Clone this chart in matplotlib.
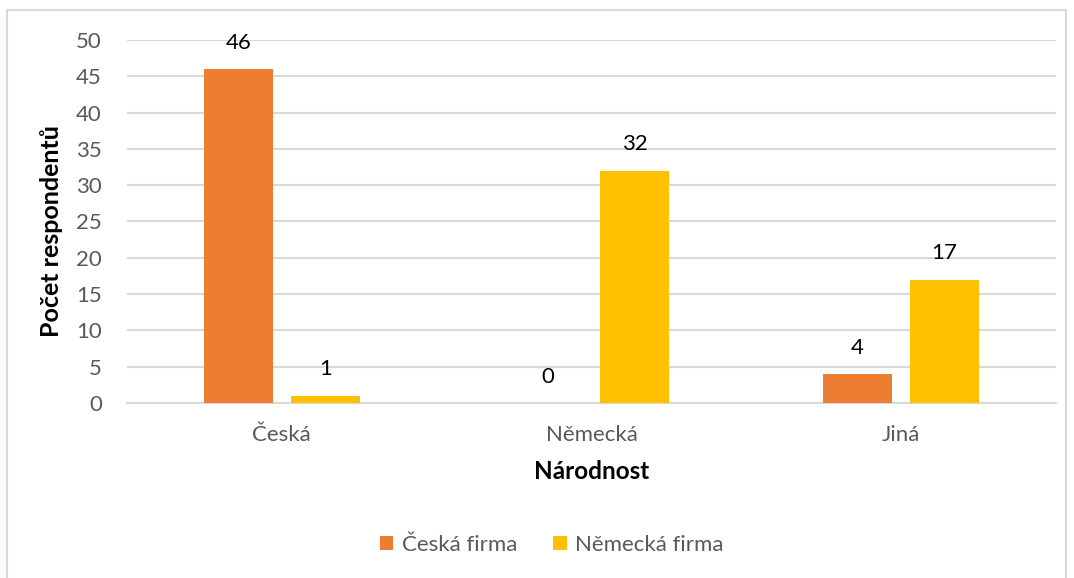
import matplotlib.pyplot as plt
import matplotlib.patches as mpatches
import numpy as np

plt.rcParams['font.family'] = ['Lato', 'DejaVu Sans']

kategorie = ["Česká", "Německá", "Jiná"]
serie = ["Česká firma", "Německá firma"]
ceska_firma = [46, 0, 4]
nemecka_firma = [1, 32, 17]
barvy = ["#ED7D31", "#FFC000"]

fig = plt.figure(figsize=(10.74, 5.78), dpi=100)
ax = fig.add_axes([0.1182, 0.3028, 0.8650, 0.6280])

# ramecek kolem grafu
fig.patches.append(mpatches.Rectangle((7 / 1074, -0.01), 1059 / 1074, 1 - 10 / 578 + 0.01,
                                      transform=fig.transFigure, fill=False,
                                      edgecolor="#D9D9D9", linewidth=1.5))

x = np.arange(len(kategorie))
w = 0.223
off = (w + 0.058) / 2
for i, (vals, nazev) in enumerate(zip([ceska_firma, nemecka_firma], serie)):
    pos = x + (-off if i == 0 else off)
    ax.bar(pos, vals, width=w, color=barvy[i], label=nazev, zorder=3)
    for p, v in zip(pos, vals):
        ax.annotate(str(v), (p, v), xytext=(0, 19), textcoords="offset points",
                    ha="center", va="center", fontsize=16, color="black")

ax.set_xlim(-0.5, 2.5)
ax.set_ylim(0, 50)
ax.set_yticks(range(0, 51, 5))
ax.set_xticks(x)
ax.set_xticklabels(kategorie)
ax.tick_params(axis="both", length=0, labelsize=16, labelcolor="#595959")
ax.tick_params(axis="x", pad=16)
ax.tick_params(axis="y", pad=18)
ax.grid(axis="y", color="#D9D9D9", linewidth=1.5, zorder=0)
for s in ["top", "right", "left"]:
    ax.spines[s].set_visible(False)
ax.spines["bottom"].set_color("#D9D9D9")
ax.spines["bottom"].set_linewidth(1.5)

ax.set_xlabel("Národnost", fontsize=17.5, fontweight="bold", labelpad=11)
ax.set_ylabel("Počet respondentů", fontsize=18, fontweight="bold", labelpad=10)
ax.yaxis.set_label_coords(-0.069, 0.475)

leg = fig.legend(loc="center", bbox_to_anchor=(552 / 1074, 1 - 545 / 578), ncol=2,
                 frameon=False, fontsize=16, handlelength=0.6, handleheight=0.6,
                 handletextpad=0.4, columnspacing=1.6)
for t in leg.get_texts():
    t.set_color("#595959")

fig.savefig("out.png", dpi=100)
